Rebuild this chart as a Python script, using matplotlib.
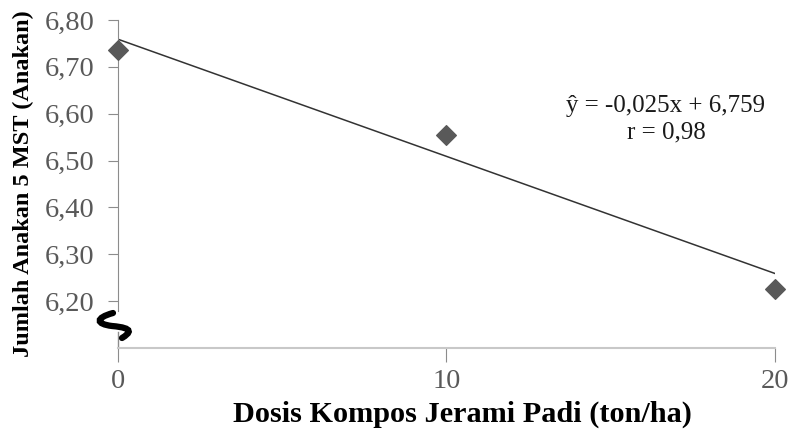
import matplotlib.pyplot as plt
from matplotlib.path import Path
from matplotlib.patches import PathPatch
import numpy as np

# data
dosis = [0, 10, 20]
anakan = [6.735, 6.555, 6.225]
slope = -0.025
intercept = 6.759
yticks = [6.20, 6.30, 6.40, 6.50, 6.60, 6.70, 6.80]
xticks = [0, 10, 20]

plt.rcParams['font.family'] = ['Liberation Serif', 'DejaVu Serif']

fig = plt.figure(figsize=(7.96, 4.38), dpi=100)
ax = fig.add_axes([0.1482, 0.2055, 0.8254, 0.7488])

x_fit = np.array([min(dosis), max(dosis)])
ax.plot(x_fit, slope * x_fit + intercept, color='#333333', lw=1.1, zorder=2)
ax.scatter(dosis, anakan, marker='D', s=100, color='#595959', zorder=3, clip_on=False)

ax.set_xlim(0, 20)
ax.set_ylim(6.10, 6.80)
ax.set_xticks(xticks)
ax.set_yticks(yticks)
ax.set_yticklabels([f'{v:.2f}'.replace('.', ',') for v in yticks])
ax.tick_params(axis='both', labelsize=20.5, labelcolor='#595959', color='#8c8c8c',
               direction='out')
ax.tick_params(axis='y', length=7, pad=10)
ax.tick_params(axis='x', length=10, pad=5)

for s in ['top', 'right']:
    ax.spines[s].set_visible(False)
ax.spines['bottom'].set_color('#c8c8c8')
ax.spines['bottom'].set_linewidth(1.5)
ax.spines['left'].set_color('#8c8c8c')
ax.spines['left'].set_bounds(6.18, 6.80)
# lower piece of the broken y axis
ax.plot([0, 0], [6.10, 6.135], color='#8c8c8c', lw=1, clip_on=False)

# axis break mark (in pixel space of the figure)
H = 438
verts = [(113, H - 313), (95, H - 318), (96, H - 324), (112, H - 326),
         (135, H - 328), (130, H - 333), (122, H - 338)]
codes = [Path.MOVETO, Path.CURVE4, Path.CURVE4, Path.CURVE4,
         Path.CURVE4, Path.CURVE4, Path.CURVE4]
verts = [(x / 796, y / H) for x, y in verts]
fig.add_artist(PathPatch(Path(verts, codes), transform=fig.transFigure,
                         fill=False, lw=4.5, color='black', capstyle='round'))

ax.set_xlabel('Dosis Kompos Jerami Padi (ton/ha)', fontsize=21.8, fontweight='bold')
ax.xaxis.set_label_coords(0.525, -0.16)
ax.set_ylabel('Jumlah Anakan 5 MST (Anakan)', fontsize=17.5, fontweight='bold')
ax.yaxis.set_label_coords(-0.128, 0.5)

ax.text(0.834, 0.697, 'ŷ = -0,025x + 6,759\nr = 0,98', transform=ax.transAxes,
        ha='center', va='center', fontsize=18, color='#1a1a1a', linespacing=1.25)

fig.savefig('out.png', dpi=100)
